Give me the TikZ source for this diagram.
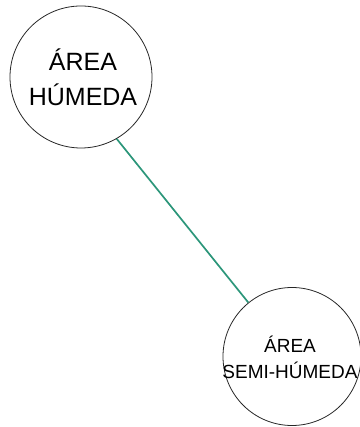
\documentclass[tikz,border=0pt]{standalone}
\usepackage{fontspec}
\setmainfont{Liberation Sans}
\definecolor{linkteal}{RGB}{44,150,122}

\begin{document}
\begin{tikzpicture}[x=1pt,y=1pt,
            area/.style={draw=black!85,circle,inner sep=0pt,line width=0.8pt},
            areatext/.style={align=center,inner sep=0pt}]
            \useasboundingbox (0,0) rectangle (359,427);
            \node[area,minimum size=142pt] (humeda) at (81,350) {};
            \node[areatext,font=\fontsize{25}{35}\selectfont] (humedatext) at (83,350) {ÁREA\\HÚMEDA};
            \node[area,minimum size=138pt] (semi) at (292,70.5) {};
            \node[areatext,font=\fontsize{19}{26}\selectfont] (semitext) at (290,70) {ÁREA\\SEMI-HÚMEDA};
            \draw[linkteal,line width=1.7pt] (humeda.-60) -- (semi.129);
        \end{tikzpicture}
\end{document}
